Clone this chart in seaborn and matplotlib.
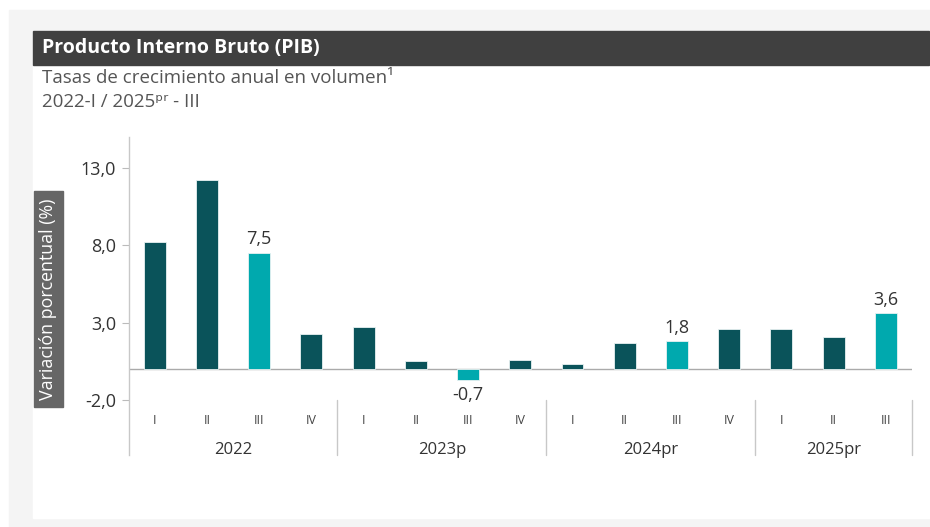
import numpy as np
import pandas as pd
import seaborn as sns
import matplotlib
matplotlib.use("Agg")
from matplotlib import pyplot as plt
from matplotlib.patches import Rectangle

years = ["2022", "2023p", "2024pr", "2025pr"]
quarters = [["I", "II", "III", "IV"], ["I", "II", "III", "IV"],
            ["I", "II", "III", "IV"], ["I", "II", "III"]]
growth = [8.2, 12.2, 7.5, 2.3,
          2.7, 0.5, -0.7, 0.6,
          0.3, 1.7, 1.8, 2.6,
          2.6, 2.1, 3.6]
labelled = ["2022-III", "2023p-III", "2024pr-III", "2025pr-III"]
yticks = [-2.0, 3.0, 8.0, 13.0]

dark = "#0a535a"
light = "#00a9ae"

keys = [f"{y}-{q}" for y, qs in zip(years, quarters) for q in qs]
df = pd.DataFrame({"key": keys, "growth": growth})
df["colour"] = np.where(df["key"].isin(labelled), light, dark)

sns.set_theme(style="white")
plt.rcParams["font.family"] = ["Open Sans", "DejaVu Sans"]

W, H = 930, 527
fig = plt.figure(figsize=(W / 100, H / 100), dpi=100)
fig.patch.set_facecolor("white")


def px(x, y, w, h):
    # pixel box (top-left origin) -> figure fraction
    return (x / W, 1 - (y + h) / H, w / W, h / H)


bx = px(9, 10, 921, 517)
fig.patches.append(Rectangle(bx[:2], bx[2], bx[3], transform=fig.transFigure,
                             color="#f4f4f4", zorder=-3))
bx = px(33, 31, 897, 487)
fig.patches.append(Rectangle(bx[:2], bx[2], bx[3], transform=fig.transFigure,
                             color="white", zorder=-2))
bx = px(33, 31, 896, 34)
fig.patches.append(Rectangle(bx[:2], bx[2], bx[3], transform=fig.transFigure,
                             color="#404040", zorder=-1))
bx = px(34, 191, 29, 216)
fig.patches.append(Rectangle(bx[:2], bx[2], bx[3], transform=fig.transFigure,
                             color="#666666", zorder=-1))

fig.text(42 / W, 1 - 48 / H, "Producto Interno Bruto (PIB)", color="white",
         fontsize=14, fontweight="bold", va="center", ha="left")
fig.text(42 / W, 1 - 78 / H, "Tasas de crecimiento anual en volumen\u00b9",
         color="#555555", fontsize=13.5, va="center", ha="left")
fig.text(42 / W, 1 - 102 / H, "2022-I / 2025\u1d56\u02b3 - III",
         color="#555555", fontsize=13.5, va="center", ha="left")
fig.text(48.5 / W, 1 - 299 / H, "Variación porcentual (%)", color="white",
         fontsize=12.8, rotation=90, va="center", ha="center")

ax = fig.add_axes([128.5 / W, 72 / H, (912 - 128.5) / W, (455 - 137) / H])
ax.set_facecolor("none")
sns.barplot(data=df, x="key", y="growth", hue="key",
            palette=dict(zip(df["key"], df["colour"])), legend=False,
            saturation=1, width=0.42, edgecolor="#e8f2f2", linewidth=0.6,
            ax=ax)

ax.set_xlim(-0.5, len(keys) - 0.5)
ax.set_ylim(-5.55, 15.0)
ax.set_yticks(yticks)
ax.set_yticklabels([f"{v:.1f}".replace(".", ",") for v in yticks],
                   fontsize=13, color="#333333")
ax.tick_params(axis="y", length=5, width=0.8, color="#bbbbbb", left=True, pad=4)
ax.set_xticks([])
ax.set_xlabel("")
ax.set_ylabel("")
for side in ["top", "right", "bottom"]:
    ax.spines[side].set_visible(False)
ax.spines["left"].set_color("#c8c8c8")
ax.spines["left"].set_linewidth(1)

ax.axhline(0, color="#aaaaaa", linewidth=1, zorder=0)

# value labels
for i, row in df.iterrows():
    if row["key"] in labelled:
        v = row["growth"]
        txt = f"{v:.1f}".replace(".", ",")
        if v >= 0:
            ax.text(i, v + 0.3, txt, ha="center", va="bottom",
                    fontsize=13, color="#333333")
        else:
            ax.text(i, v - 0.4, txt, ha="center", va="top",
                    fontsize=13, color="#333333")

# quarter and year labels, group separators
trans = ax.get_xaxis_transform()
pos = 0
for y, qs in zip(years, quarters):
    for j, q in enumerate(qs):
        ax.text(pos + j, 1 - (420 - 137) / (455 - 137), q, transform=trans,
                ha="center", va="center", fontsize=9, color="#444444")
    ax.text(pos + (len(qs) - 1) / 2, 1 - (450 - 137) / (455 - 137), y,
            transform=trans, ha="center", va="center", fontsize=12,
            color="#333333")
    pos += len(qs)
    ax.plot([pos - 0.5, pos - 0.5], [-2.0, -5.55], color="#c8c8c8",
            linewidth=1, clip_on=False)

fig.savefig("out.png", dpi=100)
